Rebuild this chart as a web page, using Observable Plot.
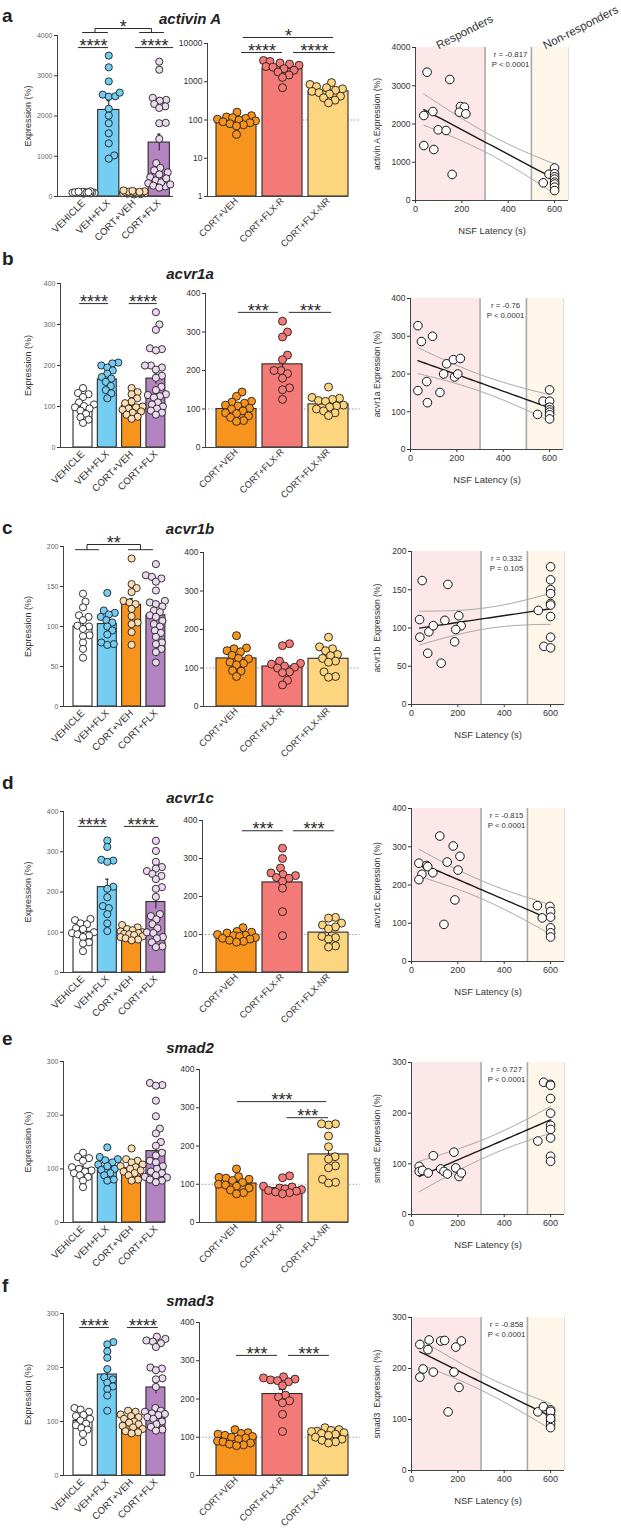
<!DOCTYPE html>
<html>
<head>
<meta charset="utf-8">
<script src="https://cdn.jsdelivr.net/npm/d3@7"></script>
<script src="https://cdn.jsdelivr.net/npm/@observablehq/plot@0.6"></script>
<style>
  html, body { margin: 0; padding: 0; background: #fff; }
  #fig { position: relative; width: 621px; height: 1531px; background: #fff; font-family: 'Liberation Sans', Arial, sans-serif; color: #222; overflow: hidden; }
  .letter { position: absolute; font-weight: bold; font-size: 19px; line-height: 1; transform: translateY(-50%); }
  .title { position: absolute; font-weight: bold; font-style: italic; font-size: 15px; line-height: 1; transform: translate(-50%, -50%); white-space: nowrap; }
</style>
</head>
<body>
<div id="fig"></div>
<script>
// ---------------- DATA ----------------
const groups4 = ["VEHICLE", "VEH+FLX", "CORT+VEH", "CORT+FLX"];
const groups3 = ["CORT+VEH", "CORT+FLX-R", "CORT+FLX-NR"];
const geneNames = ["activin A", "acvr1a", "acvr1b", "acvr1c", "smad2", "smad3"];
const panelLetters = ["a", "b", "c", "d", "e", "f"];
const scatterYLabels = ["activin A Expression (%)", "acvr1a Expression (%)", "acvr1b  Expression (%)", "acvr1c Expression (%)", "smad2  Expression (%)", "smad3  Expression (%)"];
const statR = ["r = -0.817", "r = -0.76", "r = 0.332", "r = -0.815", "r = 0.727", "r = -0.858"];
const statP = ["P < 0.0001", "P < 0.0001", "P = 0.105", "P < 0.0001", "P < 0.0001", "P < 0.0001"];
const responderRange = [0, 300];
const nonResponderRange = [500, 660];
const latencyTicks = [0, 200, 400, 600];

// tick labels
const ticksA_L = [0, 1000, 2000, 3000, 4000];
const ticksA_M = [1, 10, 100, 1000, 10000];
const ticksA_R = [0, 1000, 2000, 3000, 4000];
const ticks400 = [0, 100, 200, 300, 400];
const ticks200 = [0, 50, 100, 150, 200];
const ticks300 = [0, 100, 200, 300];

// activin A
const activinA_L = [
  [70, 85, 90, 95, 100, 100, 105, 110, 115, 120, 80, 130, 95, 105],
  [3500, 3210, 2860, 2530, 2480, 2490, 2580, 2180, 2010, 1820, 1570, 1320, 1020, 940],
  [50, 60, 70, 80, 85, 90, 95, 100, 105, 110, 120, 130, 140, 150, 115],
  [3350, 3150, 2450, 2400, 2380, 2300, 2240, 2200, 1820, 1830, 1430, 830, 710, 600, 650, 480, 400, 330, 270, 250, 350, 450, 550, 300, 220]
];
const activinA_Lmean = [100, 2150, 100, 1340];
const activinA_Lsem = [6, 230, 8, 210];
const activinA_M = [
  [160, 130, 120, 115, 110, 105, 100, 95, 90, 85, 80, 75, 70, 42],
  [3600, 3400, 3100, 2900, 2700, 2500, 2400, 2200, 2000, 1800, 1500, 1300, 700],
  [950, 850, 750, 700, 650, 600, 560, 520, 480, 420, 380, 330, 280]
];
const activinA_Mmean = [100, 2180, 560];
const activinA_Msem = [8, 230, 55];
const activinA_lat = [50, 148, 36, 75, 98, 132, 36, 79, 158, 194, 211, 189, 217, 551, 576, 600, 600, 600, 600, 600, 600, 600, 600];
const activinA_expr = [3354, 3163, 2222, 2326, 1848, 1830, 1438, 1333, 680, 2457, 2440, 2309, 2265, 462, 688, 850, 700, 620, 560, 480, 430, 350, 260];

// acvr1a
const acvr1a_L = [
  [145, 133, 130, 123, 110, 105, 101, 98, 95, 90, 82, 74, 68, 60],
  [207, 205, 200, 195, 188, 180, 172, 168, 160, 150, 140, 132, 120],
  [145, 135, 130, 120, 112, 108, 100, 98, 95, 92, 88, 85, 80, 75, 70],
  [330, 300, 287, 242, 240, 237, 200, 200, 195, 190, 175, 170, 148, 140, 130, 128, 125, 122, 110, 105, 100, 95, 90, 85, 80]
];
const acvr1a_Lmean = [100, 166, 102, 168];
const acvr1a_Lsem = [7, 8, 6, 14];
const acvr1a_M = [
  [144, 133, 120, 118, 115, 110, 108, 102, 100, 95, 90, 88, 82, 78, 70, 68],
  [328, 300, 287, 240, 228, 200, 200, 192, 180, 155, 150, 125],
  [157, 130, 128, 125, 122, 120, 110, 108, 105, 100, 95, 90, 83]
];
const acvr1a_Mmean = [100, 216, 112];
const acvr1a_Msem = [5, 17, 6];
const acvr1a_lat = [32, 47, 95, 32, 70, 73, 127, 143, 156, 185, 190, 204, 215, 548, 572, 600, 600, 600, 600, 600, 600, 600];
const acvr1a_expr = [328, 286, 300, 156, 180, 124, 151, 200, 227, 238, 192, 200, 241, 93, 128, 158, 128, 112, 105, 99, 92, 81];

// acvr1b
const acvr1b_L = [
  [141, 131, 124, 114, 112, 108, 101, 100, 97, 89, 88, 80, 72, 61],
  [142, 120, 117, 115, 112, 108, 105, 100, 95, 90, 80, 78, 77],
  [185, 153, 148, 143, 132, 130, 128, 122, 113, 105, 103, 93, 77],
  [178, 164, 162, 160, 156, 145, 132, 130, 128, 125, 120, 118, 114, 112, 107, 103, 100, 95, 92, 87, 80, 78, 72, 68, 55]
];
const acvr1b_Lmean = [100, 103, 127, 114];
const acvr1b_Lsem = [6, 6, 8, 6];
const acvr1b_M = [
  [184, 152, 150, 145, 142, 133, 125, 124, 115, 112, 108, 93, 92, 78],
  [163, 158, 118, 112, 110, 105, 102, 100, 90, 88, 68, 56],
  [180, 155, 150, 145, 135, 132, 125, 118, 115, 90, 78, 76]
];
const acvr1b_Mmean = [125, 104, 124];
const acvr1b_Msem = [8, 9, 10];
const acvr1b_lat = [46, 157, 35, 36, 75, 94, 70, 128, 144, 204, 214, 191, 186, 547, 571, 600, 600, 600, 600, 600, 600, 600, 600, 600];
const acvr1b_expr = [162, 157, 111, 88, 95, 103, 67, 54, 110, 116, 103, 98, 82, 123, 76, 180, 163, 150, 145, 132, 130, 115, 88, 74];

// acvr1c
const acvr1c_L = [
  [133, 130, 122, 120, 110, 108, 100, 98, 95, 92, 88, 75, 72, 53],
  [328, 312, 280, 278, 275, 213, 208, 187, 165, 160, 145, 122, 103],
  [118, 112, 108, 105, 102, 100, 98, 96, 95, 93, 90, 88, 85, 82, 80],
  [327, 302, 275, 262, 258, 252, 245, 240, 232, 212, 208, 188, 145, 140, 132, 120, 110, 100, 98, 88, 85, 75, 65, 63]
];
const acvr1c_Lmean = [101, 212, 96, 175];
const acvr1c_Lsem = [6, 20, 3, 17];
const acvr1c_M = [
  [118, 108, 106, 104, 100, 98, 97, 95, 92, 90, 88, 85, 82, 80],
  [327, 300, 275, 262, 258, 255, 250, 248, 240, 222, 160, 97],
  [145, 143, 130, 125, 120, 115, 95, 92, 88, 70, 67]
];
const acvr1c_Mmean = [95, 237, 105];
const acvr1c_Msem = [3, 17, 8];
const acvr1c_lat = [122, 180, 209, 154, 32, 65, 70, 201, 92, 45, 32, 187, 140, 543, 564, 597, 600, 600, 600, 600, 600];
const acvr1c_expr = [328, 302, 275, 260, 257, 251, 248, 239, 232, 228, 214, 161, 97, 146, 114, 144, 131, 116, 88, 75, 64];

// smad2
const smad2_L = [
  [130, 122, 120, 115, 103, 100, 97, 95, 92, 88, 85, 78, 66],
  [140, 122, 118, 116, 112, 108, 105, 100, 98, 92, 88, 80, 78],
  [138, 118, 115, 112, 108, 105, 103, 100, 97, 95, 92, 88, 80, 78],
  [260, 256, 255, 227, 198, 175, 166, 150, 143, 130, 125, 115, 112, 105, 100, 95, 92, 88, 85, 84, 80, 78, 75]
];
const smad2_Lmean = [100, 104, 101, 133];
const smad2_Lsem = [5, 5, 4, 11];
const smad2_M = [
  [140, 120, 118, 116, 113, 110, 105, 100, 98, 95, 90, 85, 78, 75],
  [122, 117, 95, 93, 90, 88, 86, 84, 82, 80, 78, 75],
  [258, 255, 258, 226, 198, 172, 166, 148, 143, 113, 105, 103]
];
const smad2_Mmean = [102, 90, 178];
const smad2_Msem = [5, 4, 17];
const smad2_lat = [33, 33, 47, 72, 94, 126, 140, 155, 183, 191, 205, 215, 545, 570, 599, 600, 600, 600, 600, 600, 600, 600, 600];
const smad2_expr = [95, 85, 87, 82, 116, 90, 85, 80, 123, 92, 75, 82, 145, 261, 257, 255, 229, 200, 176, 168, 151, 115, 105];

// smad3
const smad3_L = [
  [125, 122, 118, 112, 110, 105, 102, 96, 93, 88, 85, 77, 62],
  [247, 243, 230, 218, 197, 182, 178, 172, 165, 160, 148, 120],
  [120, 118, 113, 110, 108, 105, 100, 98, 95, 92, 89, 86, 82, 80, 78],
  [257, 253, 250, 248, 245, 238, 200, 198, 195, 180, 178, 164, 125, 120, 118, 115, 114, 112, 108, 105, 100, 95, 90, 85, 83]
];
const smad3_Lmean = [101, 187, 97, 163];
const smad3_Lsem = [5, 11, 3, 12];
const smad3_M = [
  [120, 112, 110, 108, 105, 102, 100, 98, 95, 90, 88, 85, 82, 80, 78],
  [258, 255, 252, 250, 248, 245, 235, 210, 205, 195, 190, 160, 115],
  [125, 120, 118, 116, 115, 112, 110, 108, 105, 100, 95, 92, 88, 85]
];
const smad3_Mmean = [97, 213, 106];
const smad3_Msem = [3, 12, 3];
const smad3_lat = [36, 76, 71, 126, 143, 215, 191, 50, 36, 94, 183, 205, 158, 545, 569, 600, 600, 600, 600, 600, 600, 600];
const smad3_expr = [247, 256, 237, 254, 255, 254, 242, 199, 183, 193, 193, 163, 115, 115, 125, 119, 108, 98, 91, 84, 116, 102];

// significance annotations (x in group index units, y in data units)
const sigA_L = [{x1: -0.2, x2: 0.99, y: 3700, label: "****"}, {x1: 2.06, x2: 3.57, y: 3700, label: "****"}];
const bracketA_L = {a: [-0.04, 0.95], b: [2.22, 3.17], y1: 4074, y2: 4174, label: "*"};
const sigA_M = [{x1: 0.15, x2: 2.11, y: 14360, label: "*"}, {x1: 0.11, x2: 1.0, y: 5821, label: "****"}, {x1: 1.24, x2: 2.15, y: 5821, label: "****"}];
const sigB_L = [{x1: -0.14, x2: 1.05, y: 351, label: "****"}, {x1: 1.9, x2: 3.06, y: 351, label: "****"}];
const sigB_M = [{x1: 0.04, x2: 0.91, y: 351, label: "***"}, {x1: 1.15, x2: 2.07, y: 351, label: "***"}];
const bracketC_L = {a: [-0.31, 0.64], b: [1.87, 2.86], y1: 196, y2: 202.5, label: "**"};
const sigD_L = [{x1: -0.19, x2: 1.0, y: 363, label: "****"}, {x1: 1.7, x2: 3.11, y: 363, label: "****"}];
const sigD_M = [{x1: 0.13, x2: 1.02, y: 373, label: "***"}, {x1: 1.24, x2: 2.13, y: 373, label: "***"}];
const sigE_M = [{x1: 0.02, x2: 1.96, y: 316, label: "***"}, {x1: 1.1, x2: 2.0, y: 274, label: "***"}];
const sigF_L = [{x1: -0.14, x2: 1.09, y: 274, label: "****"}, {x1: 1.83, x2: 3.1, y: 274, label: "****"}];
const sigF_M = [{x1: 0.0, x2: 0.89, y: 314, label: "***"}, {x1: 1.13, x2: 2.02, y: 314, label: "***"}];

// ---------------- STYLE ----------------
const FONT = "'Liberation Sans', Arial, Helvetica, sans-serif";
const barColors4 = ["#ffffff", "#74cdf2", "#f7941d", "#b384c0"];
const dotColors4 = ["#ffffff", "#74cdf2", "#fddcb0", "#ebd9ef"];
const barColors3 = ["#f7941d", "#f37a76", "#fdd57f"];
const dotColors3 = ["#f7941d", "#f37a76", "#fdd57f"];
const INK = "#2b2b2b";

// ---------------- LAYOUT (pixels) ----------------
const rowLayout = [
  {letterY: 15, titleY: 18, L: {top: 35, bottom: 196, axisX: 57, c0: 83, step: 25.25, endX: 173, half: 0.42}, M: {top: 43, bottom: 196, axisX: 207}, R: {top: 47, bottom: 200, axisX: 415}},
  {letterY: 258, titleY: 273, L: {top: 283, bottom: 447, axisX: 60}, M: {top: 293, bottom: 447, axisX: 205}, R: {top: 298, bottom: 449, axisX: 410}},
  {letterY: 527, titleY: 528, L: {top: 546, bottom: 706, axisX: 63}, M: {top: 552, bottom: 706, axisX: 203}, R: {top: 551, bottom: 704, axisX: 411}},
  {letterY: 782, titleY: 797, L: {top: 811, bottom: 972, axisX: 63}, M: {top: 820, bottom: 972, axisX: 202}, R: {top: 808, bottom: 961, axisX: 411}},
  {letterY: 1038, titleY: 1047, L: {top: 1061, bottom: 1222, axisX: 63}, M: {top: 1069, bottom: 1222, axisX: 199}, R: {top: 1062, bottom: 1214, axisX: 411}},
  {letterY: 1285, titleY: 1300, L: {top: 1313, bottom: 1475, axisX: 63}, M: {top: 1322, bottom: 1475, axisX: 199}, R: {top: 1317, bottom: 1470, axisX: 411}}
];
const leftDefault = {c0: 82.5, step: 24.3, endX: 165, half: 0.39};
const midDefault = {c0: 236, step: 46, endX: 348, half: 0.435};

const fig = document.getElementById("fig");
function place(el, left, top) {
  el.style.position = "absolute";
  el.style.left = left + "px";
  el.style.top = top + "px";
  fig.appendChild(el);
}
function styleText(svg, axis, size, color) {
  svg.querySelectorAll(`g[aria-label^="${axis}-axis"] text`).forEach(t => {
    t.style.fontSize = size + "px";
    if (color) t.style.fill = color;
  });
}

// beeswarm offsets (pixels) computed from the values
function swarm(vals, toPx, r, overlap, maxHalf) {
  const order = d3.range(vals.length).sort((a, b) => toPx(vals[a]) - toPx(vals[b]));
  const placed = [];
  const out = new Array(vals.length).fill(0);
  const dmin = 2 * r * overlap;
  for (const i of order) {
    const y = toPx(vals[i]);
    let best = 0, bestD = -1;
    for (let k = 0; ; k++) {
      const off = k === 0 ? 0 : (k % 2 ? 1 : -1) * Math.ceil(k / 2) * 0.5;
      if (Math.abs(off) > maxHalf) break;
      let md = Infinity;
      for (const p of placed) { const dd = Math.hypot(p.x - off, p.y - y); if (dd < md) md = dd; }
      if (md >= dmin) { best = off; bestD = md; break; }
      if (md > bestD) { bestD = md; best = off; }
    }
    out[i] = best;
    placed.push({x: best, y});
  }
  return out;
}

function sigMarks(sig, bracket) {
  const marks = [];
  if (sig) {
    marks.push(Plot.ruleY(sig, {x1: "x1", x2: "x2", y: "y", stroke: INK, strokeWidth: 1}));
    marks.push(Plot.text(sig, {x: d => (d.x1 + d.x2) / 2, y: "y", text: "label", fontSize: 18, lineAnchor: "bottom", dy: 4.5, fill: INK}));
  }
  if (bracket) {
    const m1 = (bracket.a[0] + bracket.a[1]) / 2, m2 = (bracket.b[0] + bracket.b[1]) / 2;
    const pts = [
      {k: 0, x: bracket.a[0], y: bracket.y1}, {k: 0, x: bracket.a[1], y: bracket.y1},
      {k: 1, x: bracket.b[0], y: bracket.y1}, {k: 1, x: bracket.b[1], y: bracket.y1},
      {k: 2, x: m1, y: bracket.y1}, {k: 2, x: m1, y: bracket.y2}, {k: 2, x: m2, y: bracket.y2}, {k: 2, x: m2, y: bracket.y1}
    ];
    marks.push(Plot.line(pts, {x: "x", y: "y", z: "k", stroke: INK, strokeWidth: 1}));
    marks.push(Plot.text([bracket], {x: () => (m1 + m2) / 2, y: "y2", text: "label", fontSize: 18, lineAnchor: "bottom", dy: 4.5, fill: INK}));
  }
  return marks;
}

function barPanel(o) {
  const lay = o.lay;
  const H = lay.bottom - lay.top;
  const y0 = o.yTicks[0], y1 = o.yTicks[o.yTicks.length - 1];
  const toPx = o.log ? v => Math.log10(v / y0) / Math.log10(y1 / y0) * H : v => (v - y0) / (y1 - y0) * H;
  const xMin = (lay.axisX - lay.c0) / lay.step, xMax = (lay.endX - lay.c0) / lay.step;
  const dots = [];
  o.vals.forEach((arr, g) => {
    const offs = swarm(arr, toPx, o.r, o.overlap, o.maxHalf);
    arr.forEach((v, k) => dots.push({x: g + offs[k] / lay.step, y: v, g}));
  });
  const bars = o.means.map((m, i) => ({i, m, s: o.sems[i]}));
  const marks = [];
  if (o.refLine) marks.push(Plot.ruleY([100], {x1: xMin, x2: xMax + 0.25, stroke: "#888", strokeDasharray: "1.2,2", strokeWidth: 1}));
  marks.push(Plot.rect(bars, {x1: d => d.i - lay.half, x2: d => d.i + lay.half, y1: y0, y2: "m", fill: d => o.barFills[d.i], stroke: INK, strokeWidth: 1.1}));
  marks.push(Plot.ruleX(bars, {x: "i", y1: d => d.m - d.s, y2: d => d.m + d.s, stroke: INK, strokeWidth: 1.1}));
  marks.push(Plot.ruleY(bars, {y: d => d.m + d.s, x1: d => d.i - 0.07, x2: d => d.i + 0.07, stroke: INK, strokeWidth: 1.1}));
  marks.push(Plot.dot(dots, {x: "x", y: "y", r: o.r, fill: d => o.dotFills[d.g], stroke: "#1e1e1e", strokeWidth: 0.9}));
  marks.push(Plot.ruleX([xMin], {y1: y0, y2: y1, stroke: "#444", strokeWidth: 1}));
  marks.push(Plot.ruleY([y0], {x1: xMin, x2: xMax, stroke: "#444", strokeWidth: 1}));
  marks.push(...sigMarks(o.sig, o.bracket));
  if (o.yLabel) marks.push(Plot.text([o.yLabel], {frameAnchor: "left", dx: 28 - lay.axisX, rotate: -90, textAnchor: "middle", lineAnchor: "middle", fontSize: 9, fill: "#333"}));
  const mT = 30, mB = 58;
  const svg = Plot.plot({
    width: o.svgWidth, height: H + mT + mB,
    marginLeft: lay.axisX - o.svgLeft, marginRight: o.svgLeft + o.svgWidth - lay.endX,
    marginTop: mT, marginBottom: mB,
    x: {domain: [xMin, xMax], ticks: d3.range(o.labels.length), tickFormat: i => o.labels[i], tickRotate: -45, tickSize: 0, tickPadding: o.xPad, label: null},
    y: {type: o.log ? "log" : "linear", domain: [y0, y1], ticks: o.yTicks, tickFormat: d3.format("d"), tickSize: 3, tickPadding: 2, label: null},
    color: {type: "identity"},
    style: {background: "transparent", overflow: "visible", fontFamily: FONT, fontSize: "9px", color: "#333"},
    marks
  });
  styleText(svg, "y", o.yTickSize, o.yTickColor);
  styleText(svg, "x", o.xTickSize, "#333");
  place(svg, o.svgLeft, lay.top - mT);
}

function regression(xs, ys) {
  const n = xs.length, mx = d3.mean(xs), my = d3.mean(ys);
  let sxx = 0, sxy = 0;
  for (let i = 0; i < n; i++) { sxx += (xs[i] - mx) ** 2; sxy += (xs[i] - mx) * (ys[i] - my); }
  const b = sxy / sxx, a = my - b * mx;
  let sse = 0;
  for (let i = 0; i < n; i++) sse += (ys[i] - a - b * xs[i]) ** 2;
  const s = Math.sqrt(sse / (n - 2));
  const t = 1.96 + 2.4 / (n - 2);
  const [lo, hi] = d3.extent(xs);
  return d3.range(41).map(k => {
    const x = lo + (hi - lo) * k / 40;
    const f = a + b * x, e = t * s * Math.sqrt(1 / n + (x - mx) ** 2 / sxx);
    return {x, f, lo: f - e, hi: f + e};
  });
}

function scatterPanel(o) {
  const lay = o.lay;
  const H = lay.bottom - lay.top;
  const ymax = o.yTicks[o.yTicks.length - 1];
  const xmax = nonResponderRange[1];
  const frameW = 153;
  const pts = o.lat.map((x, i) => ({x, y: o.expr[i]}));
  const reg = regression(o.lat, o.expr);
  const zones = [
    {x1: responderRange[0], x2: responderRange[1], fill: "#fce8e8"},
    {x1: nonResponderRange[0], x2: nonResponderRange[1], fill: "#fef7e9"}
  ];
  const marks = [
    Plot.rect(zones, {x1: "x1", x2: "x2", y1: 0, y2: ymax, fill: "fill"}),
    Plot.ruleX([responderRange[1], nonResponderRange[0]], {y1: 0, y2: ymax, stroke: "#a9a9a9", strokeWidth: 1.6}),
    Plot.ruleX([xmax], {y1: 0, y2: ymax, stroke: "#e2ddd2", strokeWidth: 1}),
    Plot.line(reg, {x: "x", y: "hi", stroke: "#a8a8a8", strokeWidth: 1}),
    Plot.line(reg, {x: "x", y: "lo", stroke: "#a8a8a8", strokeWidth: 1}),
    Plot.line(reg, {x: "x", y: "f", stroke: "#1a1a1a", strokeWidth: 1.4}),
    Plot.dot(pts, {x: "x", y: "y", r: 4.3, fill: "white", stroke: "#111", strokeWidth: 1}),
    Plot.ruleX([0], {y1: 0, y2: ymax, stroke: "#444", strokeWidth: 1}),
    Plot.ruleY([0], {x1: 0, x2: xmax, stroke: "#444", strokeWidth: 1}),
    Plot.text([o.stat], {x: () => 410, frameAnchor: "top", dy: 2, lineAnchor: "top", lineHeight: 1.3, fontSize: 7.8, fill: "#333"}),
    Plot.text([o.yLabel], {frameAnchor: "left", dx: 377 - lay.axisX, rotate: -90, textAnchor: "middle", lineAnchor: "middle", fontSize: 8.6, fill: "#333"}),
    Plot.text(["NSF Latency (s)"], {frameAnchor: "bottom", dy: 30, textAnchor: "middle", lineAnchor: "middle", fontSize: 9.4, fill: "#333"})
  ];
  if (o.showGroups) {
    marks.push(Plot.text(["Responders"], {x: () => 100, y: () => ymax, dy: 2, rotate: -27, textAnchor: "start", lineAnchor: "bottom", fontSize: 11.5, fill: "#333"}));
    marks.push(Plot.text(["Non-responders"], {x: () => 561, y: () => ymax, dy: 2, rotate: -27, textAnchor: "start", lineAnchor: "bottom", fontSize: 11.5, fill: "#333"}));
  }
  const svgLeft = 360, mT = 30, mB = 45;
  const mL = lay.axisX - svgLeft;
  const svgW = 621 - svgLeft;
  const svg = Plot.plot({
    width: svgW, height: H + mT + mB,
    marginLeft: mL, marginRight: svgW - mL - frameW, marginTop: mT, marginBottom: mB,
    x: {domain: [0, xmax], ticks: latencyTicks, tickFormat: d3.format("d"), tickSize: 3, tickPadding: 2, label: null},
    y: {domain: [0, ymax], ticks: o.yTicks, tickFormat: d3.format("d"), tickSize: 3, tickPadding: 2, label: null},
    color: {type: "identity"},
    style: {background: "transparent", overflow: "visible", fontFamily: FONT, fontSize: "9px", color: "#333"},
    marks
  });
  styleText(svg, "y", 8.6, "#333");
  styleText(svg, "x", 9, "#333");
  place(svg, svgLeft, lay.top - mT);
}

// ---------------- BUILD ----------------
const rowsData = [
  {L: activinA_L, Lm: activinA_Lmean, Ls: activinA_Lsem, M: activinA_M, Mm: activinA_Mmean, Ms: activinA_Msem, lat: activinA_lat, expr: activinA_expr, tL: ticksA_L, tM: ticksA_M, tR: ticksA_R, log: true, sigL: sigA_L, brL: bracketA_L, sigM: sigA_M},
  {L: acvr1a_L, Lm: acvr1a_Lmean, Ls: acvr1a_Lsem, M: acvr1a_M, Mm: acvr1a_Mmean, Ms: acvr1a_Msem, lat: acvr1a_lat, expr: acvr1a_expr, tL: ticks400, tM: ticks400, tR: ticks400, sigL: sigB_L, sigM: sigB_M},
  {L: acvr1b_L, Lm: acvr1b_Lmean, Ls: acvr1b_Lsem, M: acvr1b_M, Mm: acvr1b_Mmean, Ms: acvr1b_Msem, lat: acvr1b_lat, expr: acvr1b_expr, tL: ticks200, tM: ticks400, tR: ticks200, brL: bracketC_L},
  {L: acvr1c_L, Lm: acvr1c_Lmean, Ls: acvr1c_Lsem, M: acvr1c_M, Mm: acvr1c_Mmean, Ms: acvr1c_Msem, lat: acvr1c_lat, expr: acvr1c_expr, tL: ticks400, tM: ticks400, tR: ticks400, sigL: sigD_L, sigM: sigD_M},
  {L: smad2_L, Lm: smad2_Lmean, Ls: smad2_Lsem, M: smad2_M, Mm: smad2_Mmean, Ms: smad2_Msem, lat: smad2_lat, expr: smad2_expr, tL: ticks300, tM: ticks400, tR: ticks300, sigM: sigE_M},
  {L: smad3_L, Lm: smad3_Lmean, Ls: smad3_Lsem, M: smad3_M, Mm: smad3_Mmean, Ms: smad3_Msem, lat: smad3_lat, expr: smad3_expr, tL: ticks300, tM: ticks400, tR: ticks300, sigL: sigF_L, sigM: sigF_M}
];

rowsData.forEach((d, i) => {
  const lay = rowLayout[i];
  const letter = document.createElement("div");
  letter.className = "letter"; letter.textContent = panelLetters[i];
  letter.style.left = "2px"; letter.style.top = lay.letterY + "px";
  fig.appendChild(letter);
  const title = document.createElement("div");
  title.className = "title"; title.textContent = geneNames[i];
  title.style.left = "190px"; title.style.top = lay.titleY + "px";
  fig.appendChild(title);

  barPanel({
    vals: d.L, means: d.Lm, sems: d.Ls, labels: groups4, barFills: barColors4, dotFills: dotColors4,
    yTicks: d.tL, log: false, lay: Object.assign({}, leftDefault, lay.L), r: 3.6, overlap: 0.85, maxHalf: 11,
    sig: d.sigL, bracket: d.brL, refLine: false, yLabel: "Expression (%)", svgLeft: 0, svgWidth: 195,
    yTickSize: 7, yTickColor: "#666", xTickSize: 9.8, xPad: 5
  });
  barPanel({
    vals: d.M, means: d.Mm, sems: d.Ms, labels: groups3, barFills: barColors3, dotFills: dotColors3,
    yTicks: d.tM, log: !!d.log, lay: Object.assign({}, midDefault, lay.M), r: 4, overlap: 0.85, maxHalf: 19,
    sig: d.sigM, bracket: null, refLine: true, yLabel: null, svgLeft: 150, svgWidth: 230,
    yTickSize: 8.5, yTickColor: "#333", xTickSize: 9.3, xPad: 3
  });
  scatterPanel({
    lat: d.lat, expr: d.expr, yTicks: d.tR, lay: lay.R, stat: statR[i] + "\n" + statP[i],
    yLabel: scatterYLabels[i], showGroups: i === 0
  });
});
</script>
</body>
</html>
